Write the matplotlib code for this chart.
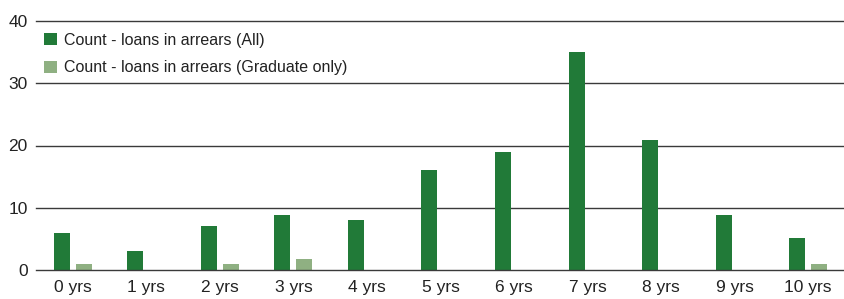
import matplotlib
matplotlib.use("Agg")
import matplotlib.pyplot as plt
import numpy as np
from matplotlib import font_manager

categories = ["0 yrs", "1 yrs", "2 yrs", "3 yrs", "4 yrs", "5 yrs", "6 yrs", "7 yrs", "8 yrs", "9 yrs", "10 yrs"]
all_loans = [6, 3, 7, 8.9, 8, 16, 19, 35, 20.9, 8.9, 5.2]
grad_only = [1, 0, 1, 1.8, 0, 0, 0, 0, 0, 0, 1]
series_names = ["Count - loans in arrears (All)", "Count - loans in arrears (Graduate only)"]
yticks = [0, 10, 20, 30, 40]

names = {f.name for f in font_manager.fontManager.ttflist}
fam = "Liberation Sans Narrow" if "Liberation Sans Narrow" in names else "Liberation Sans"
plt.rcParams['font.family'] = [fam, "DejaVu Sans"]

dark = "#217a38"
light = "#8fb082"

fig = plt.figure(figsize=(8.45, 2.99), dpi=100)
ax = fig.add_axes([36/845, 1 - 270/299, 1 - 36/845, (270 - 21)/299])

x = np.arange(len(categories))
w = 0.217
ax.bar(x - 0.15, all_loans, width=w, color=dark, label=series_names[0], zorder=3)
ax.bar(x + 0.15, grad_only, width=w, color=light, label=series_names[1], zorder=3)

ax.set_xlim(-0.5, len(categories) - 0.5)
ax.set_ylim(0, 40)
ax.set_yticks(yticks)
ax.set_xticks(x)
ax.set_xticklabels(categories)
for yv in yticks:
    ax.axhline(yv, color="#3a3a3a", lw=1.0, zorder=4 if yv == 0 else 2, clip_on=False)
for s in ax.spines.values():
    s.set_visible(False)
ax.tick_params(axis="both", length=0, labelsize=12.5, colors="#222222")
ax.tick_params(axis="y", pad=6)
ax.tick_params(axis="x", pad=7)

leg = ax.legend(loc="upper left", bbox_to_anchor=(0.0, 0.985), frameon=False,
                fontsize=11.5, handlelength=0.82, handleheight=0.82,
                handletextpad=0.45, labelspacing=0.8, borderaxespad=0.3,
                borderpad=0.2)
for t in leg.get_texts():
    t.set_color("#222222")

fig.savefig("out.png", dpi=100)
